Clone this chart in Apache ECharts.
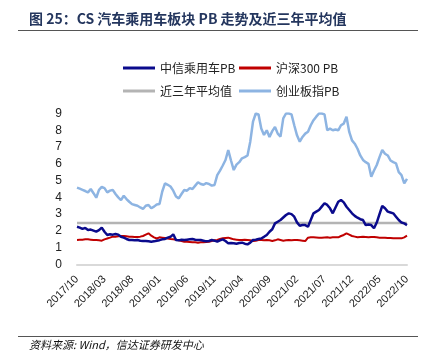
<!DOCTYPE html>
<html>
<head>
<meta charset="utf-8">
<script src="https://cdn.jsdelivr.net/npm/echarts@6/dist/echarts.min.js"></script>
<style>
    html, body { margin: 0; padding: 0; background: #fff; }
    #main { width: 428px; height: 354px; }
</style>
</head>
<body>
<div id="main"></div>
<script>
// 半月度数据, 2017/10 - 2022/10
var startYear = 2017, startMonth = 10, pointCount = 121;

var csCar = [
    2.25, 2.20, 2.12, 2.18, 2.06, 2.08, 2.02, 1.96, 2.05, 2.20,
    1.95, 1.76, 1.80, 1.78, 1.82, 1.78, 1.65, 1.60, 1.52, 1.46,
    1.46, 1.44, 1.46, 1.42, 1.40, 1.40, 1.38, 1.36, 1.38, 1.42,
    1.45, 1.50, 1.52, 1.60, 1.65, 1.80, 1.46, 1.44, 1.48, 1.46,
    1.48, 1.50, 1.52, 1.48, 1.46, 1.46, 1.42, 1.38, 1.40, 1.46,
    1.42, 1.36, 1.44, 1.50, 1.40, 1.26, 1.28, 1.26, 1.24, 1.28,
    1.30, 1.24, 1.20, 1.30, 1.46, 1.48, 1.52, 1.55, 1.65, 1.76,
    1.95, 2.10, 2.45, 2.55, 2.65, 2.80, 2.95, 3.05, 3.00, 2.85,
    2.51, 2.31, 2.35, 2.35, 2.25, 2.65, 3.05, 3.15, 3.25, 3.45,
    3.65, 3.55, 3.35, 3.05, 3.40, 3.74, 3.84, 3.70, 3.44, 3.25,
    3.05, 2.90, 2.79, 2.70, 2.65, 2.35, 2.38, 2.35, 2.16, 2.50,
    3.00, 3.49, 3.35, 3.15, 3.10, 3.05, 2.85, 2.65, 2.50, 2.45, 2.35
];

var hs300 = [
    1.46, 1.47, 1.48, 1.50, 1.50, 1.48, 1.46, 1.46, 1.44, 1.42,
    1.50, 1.55, 1.60, 1.66, 1.66, 1.68, 1.70, 1.70, 1.68, 1.66,
    1.66, 1.64, 1.64, 1.66, 1.70, 1.78, 1.86, 1.72, 1.62, 1.55,
    1.62, 1.60, 1.58, 1.55, 1.52, 1.50, 1.48, 1.44, 1.40, 1.36,
    1.36, 1.34, 1.32, 1.32, 1.30, 1.32, 1.32, 1.34, 1.36, 1.40,
    1.44, 1.46, 1.52, 1.56, 1.58, 1.60, 1.55, 1.50, 1.48, 1.46,
    1.46, 1.48, 1.46, 1.44, 1.40, 1.42, 1.46, 1.46, 1.45, 1.46,
    1.44, 1.40, 1.44, 1.50, 1.46, 1.42, 1.44, 1.46, 1.45, 1.46,
    1.46, 1.44, 1.42, 1.40, 1.60, 1.62, 1.62, 1.61, 1.60, 1.60,
    1.61, 1.62, 1.60, 1.62, 1.63, 1.62, 1.70, 1.76, 1.86, 1.78,
    1.70, 1.66, 1.62, 1.64, 1.66, 1.64, 1.62, 1.64, 1.64, 1.62,
    1.60, 1.60, 1.60, 1.58, 1.58, 1.56, 1.56, 1.56, 1.56, 1.62, 1.72
];

var cybIndex = [
    4.58, 4.52, 4.45, 4.38, 4.30, 4.50, 4.25, 3.98, 4.45, 4.62,
    4.55, 4.30, 4.40, 4.45, 4.20, 4.00, 3.84, 4.10, 3.90, 3.74,
    3.60, 3.55, 3.50, 3.40, 3.31, 3.50, 3.55, 3.35, 3.45, 3.58,
    3.60, 4.35, 4.84, 4.75, 4.65, 4.40, 4.05, 3.94, 4.20, 4.44,
    4.40, 4.55, 4.50, 4.70, 4.90, 4.80, 4.75, 4.85, 4.80, 4.70,
    4.74, 5.33, 5.60, 5.90, 6.23, 6.82, 6.20, 5.63, 5.95, 6.10,
    6.33, 6.40, 6.50, 7.32, 8.51, 9.00, 8.95, 8.10, 7.72, 8.00,
    7.60, 7.95, 8.20, 7.80, 7.62, 8.71, 9.00, 9.00, 8.95, 8.30,
    7.70, 7.32, 7.60, 7.80, 7.91, 8.30, 8.60, 8.81, 9.00, 9.00,
    8.95, 8.00, 8.10, 8.00, 8.05, 8.00, 8.30, 8.40, 8.81, 7.90,
    7.40, 7.20, 6.90, 6.50, 6.23, 6.10, 6.00, 5.23, 5.60, 5.93,
    6.40, 6.82, 6.60, 6.50, 6.20, 6.10, 6.03, 5.50, 5.33, 4.84, 5.10
];

var avgValue = 2.48;

var names = ['中信乘用车PB', '沪深300 PB', '近三年平均值', '创业板指PB'];
var colors = ['#0a0a8c', '#c00000', '#b4b4b4', '#8db4e2'];

var dates = [];
for (var i = 0; i < pointCount; i++) {
    var m = startMonth - 1 + Math.floor(i / 2);
    var y = startYear + Math.floor(m / 12);
    var mm = (m % 12) + 1;
    dates.push(y + '/' + (mm < 10 ? '0' + mm : mm) + (i % 2 ? '/16' : '/01'));
}
var avgLine = dates.map(function () { return avgValue; });

var chart = echarts.init(document.getElementById('main'));

function legendAt(name, left, top) {
    return {
        data: [name],
        left: left,
        top: top,
        icon: 'rect',
        itemWidth: 32,
        itemHeight: 3,
        itemGap: 4,
        textStyle: { fontSize: 12, color: '#222', fontFamily: 'Noto Sans CJK SC' }
    };
}

function lineSeries(idx, data, width, z) {
    return {
        name: names[idx],
        type: 'line',
        data: data,
        showSymbol: false,
        itemStyle: { color: colors[idx] },
        lineStyle: { width: width, color: colors[idx] },
        z: z
    };
}

var option = {
    animation: false,
    legend: [
        legendAt(names[0], 118, 57),
        legendAt(names[1], 234, 57),
        legendAt(names[2], 118, 80),
        legendAt(names[3], 234, 80)
    ],
    grid: { left: 77, right: 21, top: 113.5, bottom: 89.5 },
    xAxis: {
        type: 'category',
        boundaryGap: false,
        data: dates,
        axisLine: { lineStyle: { color: '#d9d9d9', width: 2 } },
        axisTick: { show: false },
        axisLabel: {
            interval: 9,
            rotate: 45,
            fontSize: 11,
            color: '#222',
            fontFamily: 'Liberation Sans',
            margin: 13,
            formatter: function (v) { return v.slice(0, 7); }
        },
        splitLine: { show: false }
    },
    yAxis: {
        type: 'value',
        min: 0,
        max: 9,
        interval: 1,
        axisLine: { show: false },
        axisTick: { show: false },
        splitLine: { show: false },
        axisLabel: { fontSize: 12, color: '#222', fontFamily: 'Liberation Sans', margin: 15 }
    },
    series: [
        lineSeries(3, cybIndex, 2.5, 1),
        lineSeries(2, avgLine, 2.5, 2),
        lineSeries(1, hs300, 2, 3),
        lineSeries(0, csCar, 2.5, 4)
    ],
    graphic: [
        {
            type: 'text', left: 29, top: 12,
            style: {
                text: '图 25：CS 汽车乘用车板块 PB 走势及近三年平均值',
                fontSize: 14, fontWeight: 'bold', fill: '#24365e',
                fontFamily: 'Noto Sans CJK SC'
            }
        },
        { type: 'line', shape: { x1: 18, y1: 30.5, x2: 418, y2: 30.5 }, style: { stroke: '#555', lineWidth: 1 } },
        { type: 'line', shape: { x1: 18, y1: 336.5, x2: 418, y2: 336.5 }, style: { stroke: '#555', lineWidth: 1 } },
        {
            type: 'text', left: 29, top: 339,
            style: {
                text: '资料来源: Wind，信达证券研发中心',
                fontSize: 11, fontStyle: 'italic', fill: '#111',
                fontFamily: 'Noto Sans CJK SC'
            }
        }
    ]
};

chart.setOption(option);
</script>
</body>
</html>
